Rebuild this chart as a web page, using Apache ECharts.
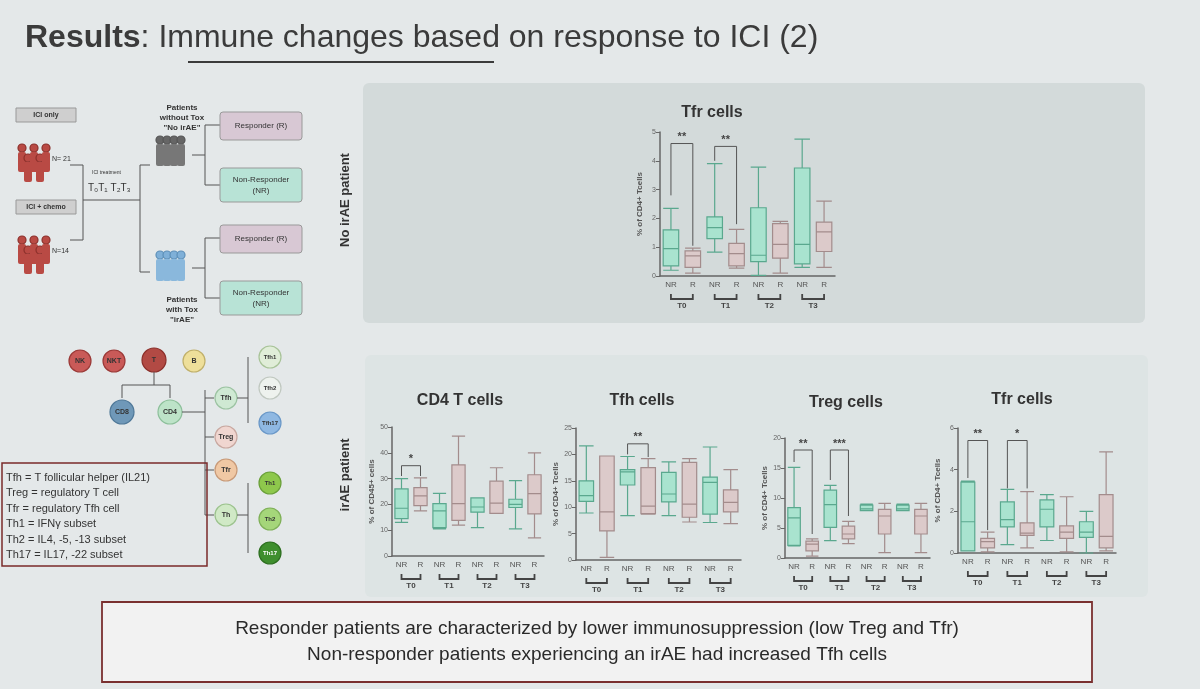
<!DOCTYPE html>
<html><head><meta charset="utf-8">
<script src="https://cdn.jsdelivr.net/npm/echarts@6/dist/echarts.min.js"></script>
<style>html,body{margin:0;padding:0;background:#e4e8e9}#c{width:1200px;height:689px}</style>
</head><body><div id="c"></div>
<script>
const groupLabels = ['NR','R','NR','R','NR','R','NR','R'];
const timeLabels = ['T0','T1','T2','T3'];
// [min, Q1, median, Q3, max]
const tfrNoIrae = [[0.2,0.35,0.95,1.6,2.35],[0.1,0.3,0.7,0.87,0.97],[0.83,1.3,1.68,2.05,3.9],[0.27,0.35,0.78,1.13,1.62],[0.02,0.5,0.72,2.37,3.78],[0.1,0.62,1.1,1.82,1.9],[0.3,0.42,1.1,3.75,4.75],[0.3,0.85,1.53,1.87,2.6]];
const cd4Irae = [[13,14.5,18.5,26,30],[17.5,19.5,23.3,26.5,30.3],[10.5,11,17.5,20.3,24.3],[12,13.8,20.3,35.3,46.5],[11,17,19,22.5,22.5],[16.5,16.5,20.5,29,34.2],[10.5,18.8,20,22,29.2],[7,16.3,24.2,31.5,40]];
const tfhIrae = [[8.9,11.1,12.2,15,21.6],[0.5,5.5,9.1,19.7,19.7],[8.4,14.2,16.7,17.1,19.6],[8.7,8.8,10.2,17.5,19.2],[8.4,11,12.5,16.6,18.6],[7.2,8.1,10.6,18.5,19.2],[7.1,8.7,14.7,15.7,21.4],[6.9,9.1,10.9,13.3,17.1]];
const tregIrae = [[2,2.1,6.7,8.4,15.1],[0.3,1.2,2.3,2.8,3.2],[2.9,5.1,8.9,11.3,12.1],[2.4,3.2,4,5.3,6.1],[7.9,7.9,8.2,8.8,9],[0.9,4,7,8.1,9.1],[7.9,7.9,8.2,8.8,9],[0.9,4,7,8.1,9.1]];
const tfrIrae = [[0.1,0.1,1.5,3.4,3.45],[0.05,0.25,0.55,0.7,1.0],[0.4,1.25,1.6,2.45,3.05],[0.25,0.85,0.95,1.45,2.95],[0.6,1.25,2.1,2.55,2.8],[0.05,0.7,1.0,1.3,2.7],[0,0.75,1.0,1.5,2.0],[0.1,0.25,0.8,2.8,4.85]];
// [grid, catA, catB, top, legA, legB, label]
const sig = [[0,0,1,4.6,2.8,1.05,'**'],[0,2,3,4.5,4.0,1.8,'**'],[1,0,1,35,31,31,'*'],[2,2,3,22,20,19.5,'**'],[3,0,1,18,16,4,'**'],[3,2,3,18,13,7,'***'],[4,0,1,5.4,3.6,1.1,'**'],[4,2,3,5.4,3.1,3.1,'*']];

const panels = [
 {data:tfrNoIrae, max:5, interval:1, name:'% of CD4+ Tcells', title:'Tfr cells', g:{left:660,top:132,width:175,height:144}, tx:712, ty:113},
 {data:cd4Irae, max:50, interval:10, name:'% of CD45+ cells', title:'CD4 T cells', g:{left:392,top:427,width:152,height:129}, tx:460, ty:401},
 {data:tfhIrae, max:25, interval:5, name:'% of CD4+ Tcells', title:'Tfh cells', g:{left:576,top:428,width:165,height:132}, tx:642, ty:401},
 {data:tregIrae, max:20, interval:5, name:'% of CD4+ Tcells', title:'Treg cells', g:{left:785,top:438,width:145,height:120}, tx:846, ty:403},
 {data:tfrIrae, max:6, interval:2, name:'% of CD4+ Tcells', title:'Tfr cells', g:{left:958,top:428,width:158,height:125}, tx:1022, ty:400}
];
const green='#a9e3cf', greenB='#5aa88e', pink='#dccaca', pinkB='#a38c8c';
const option = {
  animation:false,
  grid: panels.map(p=>Object.assign({containLabel:false},p.g)),
  xAxis: panels.map((p,i)=>({type:'category',gridIndex:i,data:groupLabels,axisTick:{show:false},
    axisLine:{lineStyle:{color:'#666',width:1.5}},axisLabel:{color:'#555',fontSize:8,fontFamily:'Liberation Sans',interval:0,margin:5}})),
  yAxis: panels.map((p,i)=>({type:'value',gridIndex:i,min:0,max:p.max,interval:p.interval,
    splitLine:{show:false},axisLine:{show:true,lineStyle:{color:'#666',width:1.5}},axisTick:{show:true,length:4},
    axisLabel:{color:'#666',fontSize:7,margin:4},name:p.name,nameLocation:'middle',nameRotate:90,nameGap:16,
    nameTextStyle:{color:'#555',fontSize:8,fontWeight:'bold'}})),
  series: panels.map((p,i)=>({type:'boxplot',xAxisIndex:i,yAxisIndex:i,boxWidth:['65%','80%'],
    data:p.data.map((v,k)=>({value:v,itemStyle:{color:k%2?pink:green,borderColor:k%2?pinkB:greenB,borderWidth:1.2}}))}))
};
const chart = echarts.init(document.getElementById('c'));
chart.setOption(option);

const G = [];
const T = (x,y,text,st)=>G.push({type:'text',x,y,style:Object.assign({text,fill:'#333',font:'11px Liberation Sans'},st||{})});
const R = (x,y,w,h,fill,stroke,r,lw)=>G.push({type:'rect',shape:{x,y,width:w,height:h,r:r||0},style:{fill,stroke:stroke||null,lineWidth:lw||1}});
const L = (pts,col,lw)=>G.push({type:'polyline',shape:{points:pts},style:{stroke:col||'#555',lineWidth:lw||1.2,fill:null}});
const C = (cx,cy,r,fill,stroke,label,fs,col)=>{G.push({type:'circle',shape:{cx,cy,r},style:{fill,stroke,lineWidth:1.2}});
  T(cx,cy,label,{align:'center',verticalAlign:'middle',font:'bold '+(fs||7)+'px Liberation Sans',fill:col||'#333'});};
G.push({type:'rect',z:-10,shape:{x:363,y:83,width:782,height:240,r:6},style:{fill:'#d3dada'}});
G.push({type:'rect',z:-10,shape:{x:365,y:355,width:783,height:242,r:6},style:{fill:'#dde4e4'}});
// title
G.push({type:'text',x:25,y:22,style:{text:'{b|Results}{n|: Immune changes based on response to ICI (2)}',
  rich:{b:{font:'bold 32px Liberation Sans',fill:'#3b3b3b'},n:{font:'32px Liberation Sans',fill:'#3b3b3b'}}}});
L([[188,62],[494,62]],'#3b3b3b',2);
panels.forEach(p=>T(p.tx,p.ty,p.title,{align:'center',verticalAlign:'middle',font:'bold 16px Liberation Sans',fill:'#333'}));
G.push({type:'text',x:345,y:200,rotation:Math.PI/2,style:{text:'No irAE patient',align:'center',verticalAlign:'middle',font:'bold 13px Liberation Sans',fill:'#333'}});
G.push({type:'text',x:345,y:475,rotation:Math.PI/2,style:{text:'irAE patient',align:'center',verticalAlign:'middle',font:'bold 13px Liberation Sans',fill:'#333'}});
panels.forEach((p,i)=>{
  for(let t=0;t<4;t++){
    const a=chart.convertToPixel({gridIndex:i},[2*t,0]), b=chart.convertToPixel({gridIndex:i},[2*t+1,0]);
    const y=a[1]+18;
    L([[a[0],y],[a[0],y+5],[b[0],y+5],[b[0],y]],'#444',1.8);
    T((a[0]+b[0])/2,y+8,timeLabels[t],{align:'center',font:'bold 8px Liberation Sans',fill:'#444'});
  }
});
sig.forEach(s=>{
  const a=chart.convertToPixel({gridIndex:s[0]},[s[1],s[3]]), b=chart.convertToPixel({gridIndex:s[0]},[s[2],s[3]]);
  const la=chart.convertToPixel({gridIndex:s[0]},[s[1],s[4]]), lb=chart.convertToPixel({gridIndex:s[0]},[s[2],s[5]]);
  L([[a[0],la[1]],[a[0],a[1]],[b[0],b[1]],[b[0],lb[1]]],'#555',1);
  T((a[0]+b[0])/2,a[1]-12,s[6],{align:'center',font:'bold 11px Liberation Sans',fill:'#444'});
});
R(16,108,60,14,'#cfcfcf','#999',0);T(46,115,'ICI only',{align:'center',verticalAlign:'middle',font:'bold 7px Liberation Sans'});
R(16,200,60,14,'#cfcfcf','#999',0);T(46,207,'ICI + chemo',{align:'center',verticalAlign:'middle',font:'bold 7px Liberation Sans'});
for(let k=0;k<5;k++){C(22+k*6,148+(k%2)*10,4,'#b94a44','#8b2f2a','',5);G.push({type:'rect',shape:{x:18+k*6,y:152+(k%2)*10,width:8,height:20,r:2},style:{fill:'#b94a44'}});
 C(22+k*6,240+(k%2)*10,4,'#b94a44','#8b2f2a','',5);G.push({type:'rect',shape:{x:18+k*6,y:244+(k%2)*10,width:8,height:20,r:2},style:{fill:'#b94a44'}});}
T(52,156,'N= 21',{font:'7px Liberation Sans'});T(52,248,'N=14',{font:'7px Liberation Sans'});
L([[70,165],[83,165],[83,240],[70,240]],'#555',1);L([[83,200],[140,200]],'#555',1);
T(92,170,'ICI treatment',{font:'5px Liberation Sans'});
T(88,183,'T₀T₁ T₂T₃',{font:'10px Liberation Sans'});
L([[140,165],[140,272]],'#555',1);L([[140,165],[150,165]],'#555',1);L([[140,272],[150,272]],'#555',1);
for(let k=0;k<4;k++){C(160+k*7,140,4,'#666','#555','',5);G.push({type:'rect',shape:{x:156+k*7,y:144,width:8,height:22,r:2},style:{fill:'#777'}});
 C(160+k*7,255,4,'#7fb0d8','#5d8fb8','',5);G.push({type:'rect',shape:{x:156+k*7,y:259,width:8,height:22,r:2},style:{fill:'#8ab8dc'}});}
T(182,103,'Patients\nwithout Tox\n"No irAE"',{align:'center',font:'bold 8px Liberation Sans',lineHeight:10});
T(182,295,'Patients\nwith Tox\n"irAE"',{align:'center',font:'bold 8px Liberation Sans',lineHeight:10,fill:'#333'});
L([[192,155],[205,155]],'#555',1);L([[205,125],[205,185]],'#555',1);L([[205,125],[220,125]],'#555',1);L([[205,185],[220,185]],'#555',1);
L([[192,268],[205,268]],'#555',1);L([[205,238],[205,298]],'#555',1);L([[205,238],[220,238]],'#555',1);L([[205,298],[220,298]],'#555',1);
R(220,112,82,28,'#d8c8d4','#999',3);T(261,126,'Responder (R)',{align:'center',verticalAlign:'middle',font:'8px Liberation Sans'});
R(220,168,82,34,'#b8e3d6','#999',3);T(261,185,'Non-Responder\n(NR)',{align:'center',verticalAlign:'middle',font:'8px Liberation Sans',lineHeight:11});
R(220,225,82,28,'#d8c8d4','#999',3);T(261,239,'Responder (R)',{align:'center',verticalAlign:'middle',font:'8px Liberation Sans'});
R(220,281,82,34,'#b8e3d6','#999',3);T(261,298,'Non-Responder\n(NR)',{align:'center',verticalAlign:'middle',font:'8px Liberation Sans',lineHeight:11});
C(80,361,11,'#c95a58','#9b3a38','NK');C(114,361,11,'#c95a58','#9b3a38','NKT');C(154,360,12,'#b24a44','#8b2f2a','T');C(194,361,11,'#eedf9a','#c0b06a','B');
L([[154,372],[154,385],[122,385],[122,398]],'#555',1);L([[154,385],[170,385],[170,398]],'#555',1);
C(122,412,12,'#6f98b8','#4f7898','CD8');C(170,412,12,'#bde3c8','#8cbf9a','CD4');
L([[182,412],[205,412]],'#555',1);L([[205,390],[205,515]],'#555',1);
L([[205,398],[214,398]],'#555',1);L([[205,437],[214,437]],'#555',1);L([[205,470],[214,470]],'#555',1);L([[205,515],[214,515]],'#555',1);
C(226,398,11,'#cfe9d3','#9cc3a2','Tfh');C(226,437,11,'#f0d6d0','#c8a8a0','Treg');C(226,470,11,'#f0c8a4','#c89a78','Tfr');C(226,515,11,'#d0e9c6','#9cc38e','Th');
L([[237,398],[248,398]],'#555',1);L([[248,357],[248,423]],'#555',1);
C(270,357,11,'#e0edd8','#a8c398','Tfh1',6);C(270,388,11,'#eef2ee','#c0c8c0','Tfh2',6);C(270,423,11,'#8fb8e2','#6a98c8','Tfh17',6);
L([[237,515],[248,515]],'#555',1);L([[248,483],[248,553]],'#555',1);
C(270,483,11,'#8ec84c','#6aa03a','Th1',6);C(270,519,11,'#a5d67a','#7fb058','Th2',6);C(270,553,11,'#3f8f2e','#2d6f20','Th17',6,'#fff');
R(2,463,205,103,'rgba(0,0,0,0)','#7a2a2a',0,1.5);
T(6,470,'Tfh = T follicular helper (IL21)\nTreg = regulatory T cell\nTfr = regulatory Tfh cell\nTh1 = IFNγ subset\nTh2 = IL4, -5, -13 subset\nTh17 = IL17, -22 subset',{font:'11px Liberation Sans',lineHeight:15.5,fill:'#333'});
R(102,602,990,80,'#f2f2f2','#7a3030',0,1.8);
T(597,642,'Responder patients are characterized by lower immunosuppression (low Treg and Tfr)\nNon-responder patients experiencing an irAE had increased Tfh cells',{align:'center',verticalAlign:'middle',font:'19px Liberation Sans',lineHeight:26,fill:'#2a2a2a'});
chart.setOption({graphic:G});
</script></body></html>
